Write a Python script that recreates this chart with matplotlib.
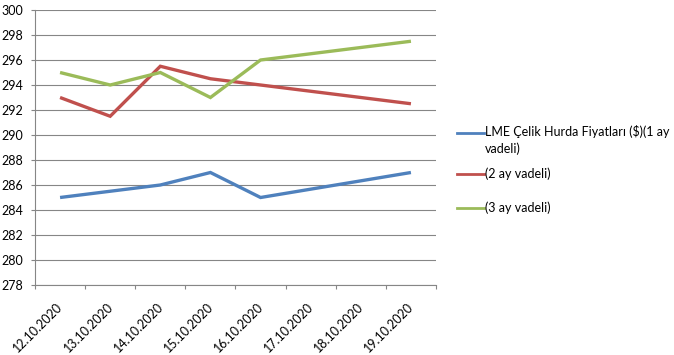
import numpy as np
import matplotlib
matplotlib.use("Agg")
import matplotlib.pyplot as plt
from matplotlib.lines import Line2D
from matplotlib.transforms import ScaledTranslation

dates = ["12.10.2020", "13.10.2020", "14.10.2020", "15.10.2020",
         "16.10.2020", "17.10.2020", "18.10.2020", "19.10.2020"]
s1 = [285, 285.5, 286, 287, 285, None, None, 287]
s2 = [293, 291.5, 295.5, 294.5, 294, None, None, 292.5]
s3 = [295, 294, 295, 293, 296, None, None, 297.5]
labels = ["LME Çelik Hurda Fiyatları ($)(1 ay\nvadeli)", "(2 ay vadeli)", "(3 ay vadeli)"]
colors = ["#4F81BD", "#C0504D", "#9BBB59"]
yticks = list(range(278, 301, 2))

plt.rcParams['font.family'] = ['Lato', 'DejaVu Sans']
W, H = 674, 355
fig = plt.figure(figsize=(W / 100, H / 100), dpi=100)
ax = fig.add_axes([35 / W, 1 - 285 / H, (436 - 35) / W, (285 - 10) / H])

grey = "#868686"
for s, c in zip([s1, s2, s3], colors):
    xs = [i + 0.5 for i, v in enumerate(s) if v is not None]
    ys = [v for v in s if v is not None]
    ax.plot(xs, ys, color=c, lw=2.4, solid_joinstyle='miter', solid_capstyle='butt')

ax.set_xlim(0, len(dates))
ax.set_ylim(278, 300)
ax.set_yticks(yticks)
ax.set_xticks(np.arange(len(dates) + 1))
ax.set_xticklabels([])
ax.set_xticks(np.arange(len(dates)) + 0.5, minor=True)
ax.set_xticklabels(dates, minor=True, rotation=45, ha='right', va='top')
ax.tick_params(axis='x', which='minor', length=0, pad=11, labelsize=9)
ax.tick_params(axis='x', which='major', length=3, color=grey, width=0.8)
ax.tick_params(axis='y', length=3, color=grey, width=0.8, labelsize=9, pad=5.5)
off = ScaledTranslation(5 / 100, 0, fig.dpi_scale_trans)
for lab in ax.get_xticklabels(minor=True):
    lab.set_transform(lab.get_transform() + off)
ax.grid(axis='y', color=grey, lw=0.8)
ax.set_axisbelow(True)
for sp in ['top', 'right']:
    ax.spines[sp].set_visible(False)
for sp in ['left', 'bottom']:
    ax.spines[sp].set_color(grey)
    ax.spines[sp].set_linewidth(0.8)

# legend (manual, Excel-like layout)
ly = [132.7, 174, 207.7]
for yy, c, lab in zip(ly, colors, labels):
    fy = 1 - yy / H
    fig.add_artist(Line2D([457 / W, 484 / W], [fy, fy], color=c, lw=2.0,
                          transform=fig.transFigure))
    if '\n' in lab:
        fig.text(485 / W, fy + 7.5 / H, lab, fontsize=9, va='top', ha='left',
                 linespacing=1.4)
    else:
        fig.text(485 / W, fy, lab, fontsize=9, va='center', ha='left')

fig.savefig("out.png", dpi=100)
